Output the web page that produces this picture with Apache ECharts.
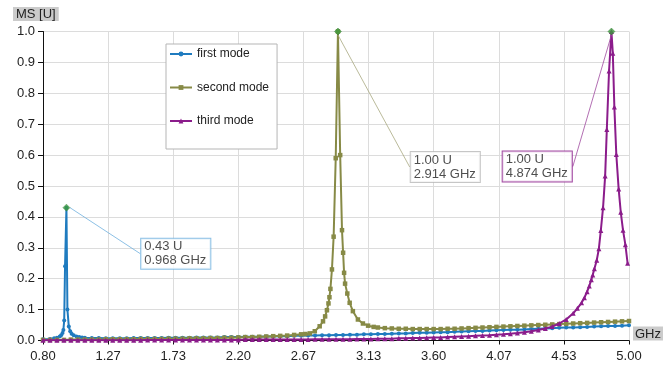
<!DOCTYPE html>
<html>
<head>
<meta charset="utf-8">
<script src="https://cdn.jsdelivr.net/npm/echarts@6/dist/echarts.min.js"></script>
<style>
html,body{margin:0;padding:0;background:#fff;}
#chart{width:666px;height:367px;}
</style>
</head>
<body>
<div id="chart"></div>
<script>
// ---------- data ----------
const seriesNames = ['first mode', 'second mode', 'third mode'];

const freqFirst = [
  0.80, 0.85, 0.88, 0.90, 0.92, 0.93, 0.94, 0.946, 0.952, 0.958,
  0.968, 0.975, 0.985, 0.995, 1.005, 1.02, 1.04, 1.06, 1.08, 1.10,
  1.15, 1.20, 1.25, 1.30, 1.35, 1.40, 1.45, 1.50, 1.55, 1.60,
  1.65, 1.70, 1.75, 1.80, 1.85, 1.90, 1.95, 2.00, 2.05, 2.10,
  2.15, 2.20, 2.25, 2.30, 2.35, 2.40, 2.45, 2.50, 2.55, 2.60,
  2.65, 2.70, 2.75, 2.80, 2.85, 2.90, 2.95, 3.00, 3.05, 3.10,
  3.15, 3.20, 3.25, 3.30, 3.35, 3.40, 3.45, 3.50, 3.55, 3.60,
  3.65, 3.70, 3.75, 3.80, 3.85, 3.90, 3.95, 4.00, 4.05, 4.10,
  4.15, 4.20, 4.25, 4.30, 4.35, 4.40, 4.45, 4.50, 4.55, 4.60,
  4.65, 4.70, 4.75, 4.80, 4.85, 4.90, 4.95, 5.00
];
const msFirst = [
  0.004, 0.005, 0.007, 0.009, 0.013, 0.017, 0.024, 0.034, 0.065, 0.24,
  0.43, 0.10, 0.045, 0.030, 0.022, 0.017, 0.013, 0.011, 0.010, 0.009,
  0.008, 0.008, 0.007, 0.007, 0.007, 0.007, 0.008, 0.008, 0.008, 0.008,
  0.008, 0.009, 0.009, 0.009, 0.009, 0.010, 0.010, 0.010, 0.010, 0.011,
  0.011, 0.011, 0.012, 0.012, 0.012, 0.013, 0.013, 0.014, 0.014, 0.015,
  0.015, 0.016, 0.016, 0.017, 0.017, 0.018, 0.018, 0.019, 0.019, 0.020,
  0.020, 0.021, 0.021, 0.022, 0.023, 0.023, 0.024, 0.025, 0.025, 0.026,
  0.027, 0.027, 0.028, 0.029, 0.030, 0.031, 0.031, 0.032, 0.033, 0.034,
  0.035, 0.035, 0.036, 0.037, 0.038, 0.039, 0.040, 0.041, 0.042, 0.042,
  0.043, 0.044, 0.045, 0.046, 0.047, 0.047, 0.048, 0.049
];

const freqSecond = [
  0.80, 0.85, 0.90, 0.95, 1.00, 1.05, 1.10, 1.15, 1.20, 1.25,
  1.30, 1.35, 1.40, 1.45, 1.50, 1.55, 1.60, 1.65, 1.70, 1.75,
  1.80, 1.85, 1.90, 1.95, 2.00, 2.05, 2.10, 2.15, 2.20, 2.25,
  2.30, 2.35, 2.40, 2.45, 2.50, 2.55, 2.60, 2.65, 2.68, 2.712,
  2.748, 2.783, 2.807, 2.822, 2.835, 2.846, 2.853, 2.860, 2.871, 2.883,
  2.898, 2.914, 2.930, 2.943, 2.951, 2.958, 2.965, 2.981, 2.998, 3.021,
  3.057, 3.093, 3.13, 3.17, 3.20, 3.25, 3.30, 3.35, 3.40, 3.45,
  3.50, 3.55, 3.60, 3.65, 3.70, 3.75, 3.80, 3.85, 3.90, 3.95,
  4.00, 4.05, 4.10, 4.15, 4.20, 4.25, 4.30, 4.35, 4.40, 4.45,
  4.50, 4.55, 4.60, 4.65, 4.70, 4.75, 4.80, 4.85, 4.90, 4.95,
  5.00
];
const msSecond = [
  0.002, 0.002, 0.002, 0.002, 0.003, 0.003, 0.003, 0.003, 0.003, 0.004,
  0.004, 0.004, 0.004, 0.004, 0.005, 0.005, 0.005, 0.005, 0.006, 0.006,
  0.006, 0.007, 0.007, 0.007, 0.008, 0.008, 0.009, 0.009, 0.010, 0.011,
  0.011, 0.012, 0.013, 0.014, 0.015, 0.016, 0.018, 0.020, 0.021, 0.023,
  0.030, 0.046, 0.062, 0.078, 0.098, 0.12, 0.14, 0.167, 0.23, 0.336,
  0.59, 1.0, 0.60, 0.357, 0.284, 0.219, 0.184, 0.152, 0.122, 0.095,
  0.068, 0.055, 0.048, 0.044, 0.042, 0.040, 0.039, 0.038, 0.038, 0.037,
  0.037, 0.037, 0.037, 0.037, 0.038, 0.038, 0.039, 0.040, 0.041, 0.042,
  0.043, 0.044, 0.045, 0.046, 0.047, 0.048, 0.049, 0.050, 0.051, 0.052,
  0.053, 0.054, 0.055, 0.056, 0.057, 0.058, 0.059, 0.060, 0.061, 0.062,
  0.063
];

const freqThird = [
  0.80, 0.85, 0.90, 0.95, 1.00, 1.05, 1.10, 1.15, 1.20, 1.25,
  1.30, 1.35, 1.40, 1.45, 1.50, 1.55, 1.60, 1.65, 1.70, 1.75,
  1.80, 1.85, 1.90, 1.95, 2.00, 2.05, 2.10, 2.15, 2.20, 2.25,
  2.30, 2.35, 2.40, 2.45, 2.50, 2.55, 2.60, 2.65, 2.70, 2.75,
  2.80, 2.85, 2.90, 2.95, 3.00, 3.05, 3.10, 3.15, 3.20, 3.25,
  3.30, 3.35, 3.40, 3.45, 3.50, 3.55, 3.60, 3.65, 3.70, 3.75,
  3.80, 3.85, 3.90, 3.95, 4.00, 4.05, 4.10, 4.15, 4.20, 4.25,
  4.30, 4.35, 4.40, 4.45, 4.50, 4.55, 4.60, 4.63, 4.66, 4.68,
  4.70, 4.715, 4.73, 4.74, 4.752, 4.769, 4.784, 4.798, 4.814, 4.829,
  4.841, 4.857, 4.874, 4.884, 4.895, 4.909, 4.926, 4.941, 4.957, 4.974,
  4.99
];
const msThird = [
  0.001, 0.001, 0.001, 0.001, 0.001, 0.001, 0.001, 0.001, 0.001, 0.001,
  0.001, 0.001, 0.001, 0.001, 0.001, 0.002, 0.002, 0.002, 0.002, 0.002,
  0.002, 0.002, 0.002, 0.002, 0.002, 0.002, 0.002, 0.002, 0.002, 0.003,
  0.003, 0.003, 0.003, 0.003, 0.003, 0.003, 0.003, 0.003, 0.003, 0.004,
  0.004, 0.004, 0.004, 0.004, 0.004, 0.005, 0.005, 0.005, 0.006, 0.006,
  0.006, 0.007, 0.007, 0.008, 0.008, 0.009, 0.010, 0.010, 0.011, 0.012,
  0.013, 0.014, 0.015, 0.016, 0.017, 0.019, 0.020, 0.022, 0.024, 0.027,
  0.030, 0.034, 0.039, 0.045, 0.055, 0.068, 0.088, 0.104, 0.122, 0.138,
  0.158, 0.176, 0.197, 0.212, 0.232, 0.26, 0.297, 0.356, 0.43, 0.532,
  0.683, 0.872, 1.0, 0.93, 0.756, 0.602, 0.49, 0.415, 0.357, 0.31,
  0.25
];

// peak markers (annotated points)
const peakFreq = [0.968, 2.914, 4.874];
const peakMs = [0.43, 1.00, 1.00];

// axis ticks
const xMin = 0.80, xMax = 5.00, xSteps = 9;
const yMin = 0, yMax = 1.0, yStep = 0.1;

// ---------- chart ----------
const FONT = "'Liberation Sans', Arial, sans-serif";
const colors = ['#1f7bbf', '#878a46', '#8b1c8b'];
const symbols = ['circle', 'rect', 'triangle'];
const symSizes = [4, 4.5, 5];
const peakBorder = ['#6eb0de', '#b8b8b8', '#8b1c8b'];
const peakLine = ['#6eb0de', '#a8a880', '#a04aa0'];
const peakOffsets = [{dx: 71, dy: 46}, {dx: 69, dy: 135.5}, {dx: -112.5, dy: 135}];

function pairs(fs, vs) { return fs.map((f, i) => [f, vs[i]]); }
const seriesData = [pairs(freqFirst, msFirst), pairs(freqSecond, msSecond), pairs(freqThird, msThird)];

const lineSeries = seriesNames.map((n, i) => ({
  name: n,
  type: 'line',
  data: seriesData[i],
  symbol: symbols[i],
  symbolSize: symSizes[i],
  showSymbol: true,
  color: colors[i],
  lineStyle: {width: 2, color: colors[i]},
  itemStyle: {color: colors[i]},
  z: 2 + i
}));

const peakSeries = {
  name: 'peaks',
  type: 'scatter',
  z: 10,
  symbol: 'diamond',
  symbolSize: 7,
  itemStyle: {color: '#3c9a3c', borderColor: '#2d7a2d', borderWidth: 0.5},
  data: peakFreq.map((f, i) => ({
    value: [f, peakMs[i]],
    label: {borderColor: peakBorder[i]},
    labelLine: {lineStyle: {color: peakLine[i]}}
  })),
  label: {
    show: true,
    position: 'right',
    distance: 0,
    formatter: p => p.value[1].toFixed(2) + ' U\n' + p.value[0].toFixed(3) + ' GHz',
    fontFamily: FONT,
    fontSize: 13,
    lineHeight: 14,
    color: '#222',
    backgroundColor: '#fff',
    borderWidth: 1,
    padding: [1, 4, 1, 3]
  },
  labelLine: {show: true, lineStyle: {width: 0.8}},
  labelLayout: p => peakOffsets[p.dataIndex]
};

const option = {
  animation: false,
  backgroundColor: '#fff',
  textStyle: {fontFamily: FONT},
  title: {
    text: 'MS [U]',
    left: 13, top: 7,
    padding: [0, 3, 0, 3],
    backgroundColor: '#cbcbcb',
    textStyle: {fontFamily: FONT, fontSize: 13, fontWeight: 'normal', color: '#222', lineHeight: 14}
  },
  grid: {left: 43, right: 35, top: 31.5, bottom: 26.5},
  legend: {
    data: seriesNames,
    orient: 'vertical',
    left: 166, top: 44,
    padding: [4, 8, 22, 3],
    itemGap: 21.5,
    itemWidth: 22,
    itemHeight: 6,
    backgroundColor: '#fff',
    borderColor: '#b5b5b5',
    borderWidth: 1,
    textStyle: {fontFamily: FONT, fontSize: 12, color: '#222'}
  },
  xAxis: {
    type: 'value',
    min: xMin, max: xMax,
    interval: (xMax - xMin) / xSteps,
    name: 'GHz',
    nameLocation: 'end',
    nameGap: 4,
    nameTextStyle: {fontFamily: FONT, fontSize: 13, color: '#222', backgroundColor: '#cbcbcb', padding: [1, 2, 0, 2], verticalAlign: 'bottom', lineHeight: 13},
    axisLine: {show: true, onZero: false, lineStyle: {color: '#111', width: 1}},
    axisTick: {show: true, length: 4, lineStyle: {color: '#111'}},
    axisLabel: {fontFamily: FONT, fontSize: 13, color: '#222', margin: 9,
      formatter: v => v.toFixed(2)},
    splitLine: {show: true, lineStyle: {color: '#dcdcdc', width: 1}}
  },
  yAxis: {
    type: 'value',
    min: yMin, max: yMax, interval: yStep,
    axisLine: {show: true, lineStyle: {color: '#111', width: 1}},
    axisTick: {show: true, length: 5, lineStyle: {color: '#111'}},
    axisLabel: {fontFamily: FONT, fontSize: 13, color: '#222', margin: 8,
      formatter: v => v.toFixed(1)},
    splitLine: {show: true, lineStyle: {color: '#dcdcdc', width: 1}}
  },
  series: lineSeries.concat([peakSeries])
};

const chart = echarts.init(document.getElementById('chart'), null, {renderer: 'canvas'});
chart.setOption(option);
</script>
</body>
</html>
